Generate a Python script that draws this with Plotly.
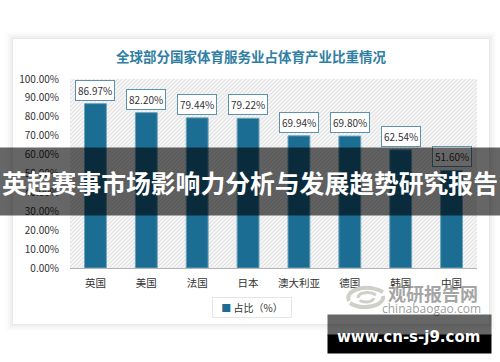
import base64
import plotly.graph_objects as go

categories = ["英国", "美国", "法国", "日本", "澳大利亚", "德国", "韩国", "中国"]
values = [86.97, 82.20, 79.44, 79.22, 69.94, 69.80, 62.54, 51.60]
y_ticks = [0, 10, 20, 30, 40, 50, 60, 70, 80, 90, 100]
chart_title = "全球部分国家体育服务业占体育产业比重情况"
banner = "英超赛事市场影响力分析与发展趋势研究报告"
site = "www.cn-s-j9.com"
legend_name = "占比（%）"

FONT = "Noto Sans CJK SC, Noto Sans, sans-serif"
BAR = "#1b6d93"
W, H = 500, 362
L, R, T, B = 70, 477, 79, 268
px = lambda v: (v - L) / (R - L)
py = lambda v: (B - v) / (B - T)

svg = ('<svg xmlns="http://www.w3.org/2000/svg" width="407" height="189">'
       '<defs><pattern id="p" width="4" height="4" patternUnits="userSpaceOnUse">'
       '<rect width="4" height="4" fill="#f8f8f8"/>'
       '<path d="M-1,1 L1,-1 M0,4 L4,0 M3,5 L5,3" stroke="#e0e0e0" stroke-width="1.1"/>'
       '</pattern></defs><rect width="407" height="189" fill="url(#p)"/></svg>')
hatch = "data:image/svg+xml;base64," + base64.b64encode(svg.encode()).decode()

fig = go.Figure(go.Bar(
    x=categories, y=values, width=0.43, showlegend=False,
    marker=dict(color=BAR, line=dict(color="#6fa3bb", width=1)),
))

shapes = []
for grow, alpha in [(7, 0.012), (5, 0.018), (3, 0.025), (1, 0.035)]:
    shapes.append(dict(type="rect", xref="paper", yref="paper", layer="below",
                       x0=px(13 - grow), x1=px(489 + grow), y0=py(39 - grow), y1=py(324 + grow),
                       fillcolor=f"rgba(0,0,0,{alpha})", line_width=0))
shapes.append(dict(type="rect", xref="paper", yref="paper", layer="below",
                   x0=px(13), x1=px(489), y0=py(39), y1=py(324),
                   fillcolor="white", line_width=0))


def curve(p0, c1, c2, p1):
    s = [f"{px(x):.5f},{py(y):.5f}" for x, y in (p0, c1, c2, p1)]
    return f"M{s[0]} C{s[1]} {s[2]} {s[3]}"


for seg, w in [(((349, 301), (344, 290), (366, 283), (383, 292)), 4),
               (((383, 296), (385, 306), (362, 311), (350, 303)), 4),
               (((358, 298), (358, 292), (370, 291), (376, 295)), 3),
               (((374, 298), (372, 303), (362, 303), (360, 300)), 3)]:
    shapes.append(dict(type="path", xref="paper", yref="paper", layer="above", path=curve(*seg),
                       line=dict(color="#cfcfca", width=w)))


def note(x, y, text, **kw):
    return dict(xref="paper", yref="paper", x=px(x), y=py(y), text=text, showarrow=False,
                xanchor="center", yanchor="middle", **kw)


annotations = [
    note(251, 56, f"<b>{chart_title}</b>", font=dict(family=FONT, size=13.5, color="#2f7ea3")),
]
for c, v in zip(categories, values):
    annotations.append(dict(x=c, y=v, xref="x", yref="y", yanchor="bottom", yshift=3,
                            text=f"{v:.2f}%", showarrow=False, bgcolor="white",
                            bordercolor="#5b93ae", borderwidth=1, borderpad=2,
                            font=dict(family=FONT, size=10, color="#333333")))
annotations += [
    note(251.5, 307, f'<span style="color:{BAR}">■</span> {legend_name}', width=78, height=19,
         bgcolor="white", bordercolor="#e6e6e6", borderwidth=1, borderpad=0,
         font=dict(family=FONT, size=10, color="#333333")),
    note(432.5, 292.5, "<b>观研报告网</b>", font=dict(family=FONT, size=18, color="rgba(140,140,140,0.8)")),
    note(431, 308, "chinabaogao.com", font=dict(family="Open Sans", size=12, color="rgba(140,140,140,0.85)")),
    note(250, 181.5, f"<b>{banner}</b>", width=500, height=67, bgcolor="rgba(0,0,0,0.6)", borderpad=0,
         font=dict(family=FONT, size=24.8, color="white")),
    note(409.5, 344, " ", width=163, height=18, bgcolor="#000000", borderpad=0),
    note(409.5, 325, " ", width=163, height=20, bgcolor="rgba(0,0,0,0.6)", borderpad=0),
    note(408.5, 337, f"<b>{site}</b>", font=dict(family="DejaVu Sans", size=15, color="white")),
]

fig.update_layout(
    width=W, height=H, autosize=False,
    margin=dict(l=L, r=W - R, t=T, b=H - B, pad=0),
    paper_bgcolor="white", plot_bgcolor="rgba(0,0,0,0)",
    annotations=annotations, shapes=shapes, showlegend=False,
    images=[dict(source=hatch, xref="x", yref="y", x=-0.5, y=100, sizex=8, sizey=100,
                 xanchor="left", yanchor="top", sizing="stretch", layer="below")],
    xaxis=dict(range=[-0.5, 7.5], type="category", showgrid=False, ticks="", showline=True,
               linecolor="#b4b4b4", linewidth=1, ticklabelstandoff=5,
               tickfont=dict(family=FONT, size=10.5, color="#333333")),
    yaxis=dict(range=[0, 100], tickvals=y_ticks, ticktext=[f"{t:.2f}%" for t in y_ticks],
               showgrid=False, zeroline=False, ticks="", showline=False, ticklabelstandoff=10,
               tickfont=dict(family=FONT, size=10, color="#333333")),
)
fig.write_html("out.html", config=dict(displayModeBar=False),
               post_script="document.body.style.margin='0';document.documentElement.style.overflow='hidden';")
